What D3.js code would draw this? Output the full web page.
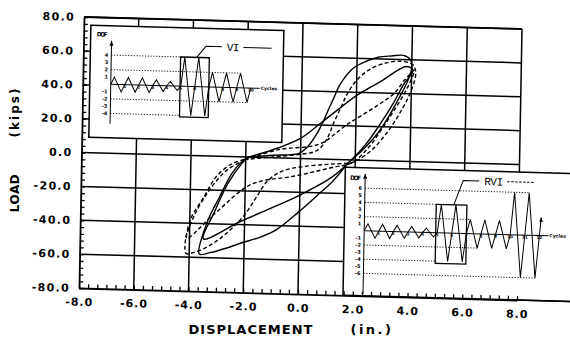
<!DOCTYPE html>
<html><head><meta charset="utf-8">
<script src="https://cdn.jsdelivr.net/npm/d3@7/dist/d3.min.js"></script>
<style>body{margin:0;background:#fff}svg{display:block}</style>
</head><body>
<svg id="c" width="570" height="341"></svg>
<script>
// ---------- data ----------
const xTicks = [-8,-6,-4,-2,0,2,4,6,8];
const yTicks = [-80,-60,-40,-20,0,20,40,60,80];

// VI test (solid) – displacement (in.), load (kips)
const viCycle1 = [[-1.9,0],[-1.0,1.5],[-0.06,3],[0.25,7],[0.55,14],[0.8,22],[0.98,29],[1.17,36],[1.35,43],[1.54,48],[1.85,54],[2.28,58],[2.77,61],[3.26,62],[3.7,62.5],[3.95,60],[4.0,55],[3.85,47],[3.55,37],[3.15,25],[2.7,14],[2.2,5],[1.8,-1],[1.16,-13.5],[0.67,-21],[-0.06,-32],[-0.8,-42],[-1.41,-47],[-2.14,-51],[-2.63,-54],[-3.24,-57],[-3.63,-58],[-3.36,-39],[-2.93,-24],[-2.5,-10],[-2.15,-3],[-1.9,0]];
const viCycle2 = [[-1.9,0],[-0.8,6],[0,12],[0.7,21],[1.3,29],[2.0,38],[2.9,47],[3.8,56],[4.05,54],[3.7,45],[3.35,34],[2.9,22],[2.4,10],[1.8,-1],[1.16,-10.5],[0,-21.6],[-1.04,-29.8],[-2.14,-38],[-3.49,-49],[-3.12,-33.5],[-2.63,-15.9],[-2.14,-4],[-1.9,0]];
// RVI test (dashed)
const rviCycle1 = [[-2.05,-1.5],[-1.0,0.5],[0,2.5],[0.6,5],[0.95,12],[1.2,22],[1.45,31],[1.7,40],[2.05,48],[2.5,54],[3.0,57.5],[3.6,59],[4.05,57],[4.15,52],[4.0,42],[3.65,30],[3.2,18],[2.65,7],[2.1,0],[1.9,-1.5],[1.0,-3],[0,-5],[-0.7,-8],[-1.2,-14],[-1.6,-24],[-2.0,-34],[-2.5,-43],[-3.0,-50],[-3.5,-55],[-3.9,-57.5],[-4.1,-58],[-4.16,-55],[-3.98,-38],[-3.49,-24],[-3.06,-12],[-2.5,-4.2],[-2.05,-1.5]];
const rviCycle2 = [[-2.02,-1.7],[-0.8,4.9],[0.68,8.8],[1.66,20.6],[2.77,32.5],[3.38,40],[3.75,48],[4.1,54],[3.9,45],[3.5,33],[3.0,20],[2.5,8],[1.9,-1.5],[1.16,-4.8],[-0.18,-10.4],[-1.77,-16],[-3.1,-34],[-4.1,-49],[-3.85,-35.8],[-3.3,-20],[-2.69,-8.2],[-2.02,-1.7]];

// inset loading histories: DOF amplitude per cycle
const viAmps  = [1,1,1,0.8,0.6,4,4,2,2,2];
const rviAmps = [1,1,0.9,0.8,0.6,4,4,2,2,2,6,6];
const viLevels  = [4,3,2,1,-1,-2,-3,-4];
const rviLevels = [6,5,4,3,2,1,-1,-2,-3,-4,-5,-6];
const viCycleLabels  = [1,2,3,4,5,6,7,8,9,10];
const rviCycleLabels = [1,2,3,4,5,6,7,8,9,10,11,12];
const viDotted  = [[4,6.25],[2,9.25],[-2,9.75],[-4,5]];
const rviDotted = [[6,11.25],[4,5],[2,7.25],[-2,7.75],[-4,5],[-6,11.75]];

// ---------- drawing ----------
const svg = d3.select('#c');
const W = 438, H = 271;
const x = d3.scaleLinear().domain([-8,8]).range([0,W]);
const y = d3.scaleLinear().domain([-80,80]).range([H,0]);
const g = svg.append('g').attr('transform','matrix(1,0.0274,-0.0185,1,84,17)');
const FONT = "'DejaVu Sans', Verdana, sans-serif";

// grid
g.append('g').selectAll('line').data(xTicks.filter(d=>d>-8)).join('line')
  .attr('x1',d=>x(d)).attr('x2',d=>x(d)).attr('y1',0).attr('y2',H)
  .attr('stroke','#000').attr('stroke-width',1.5);
g.append('g').selectAll('line').data(yTicks.filter(d=>d>-80)).join('line')
  .attr('x1',0).attr('x2',W).attr('y1',d=>y(d)).attr('y2',d=>y(d))
  .attr('stroke','#000').attr('stroke-width',1.5);

// curves
const line = d3.line().x(d=>x(d[0])).y(d=>y(d[1])).curve(d3.curveCatmullRom.alpha(0.5));
[viCycle1, viCycle2].forEach(c=>g.append('path').attr('d',line(c)).attr('fill','none')
  .attr('stroke','#000').attr('stroke-width',1.4));
[rviCycle1, rviCycle2].forEach(c=>g.append('path').attr('d',line(c)).attr('fill','none')
  .attr('stroke','#000').attr('stroke-width',1.4).attr('stroke-dasharray','4,2.5'));

// insets
function inset(opt){
  const ig = g.append('g').attr('transform',`translate(${opt.x},${opt.y})`);
  ig.append('rect').attr('width',opt.w).attr('height',opt.h).attr('fill','#fff')
    .attr('stroke','#000').attr('stroke-width',1.5);
  const cx = d3.scaleLinear().domain([0,opt.n]).range([opt.ax, opt.ax + opt.n*opt.cw]);
  const dy = d3.scaleLinear().domain([-1,1]).range([opt.zero+opt.u, opt.zero-opt.u]);
  ig.selectAll('.dot').data(opt.dotted).join('line')
    .attr('x1',cx(0)).attr('x2',d=>cx(d[1])).attr('y1',d=>dy(d[0])).attr('y2',d=>dy(d[0]))
    .attr('stroke','#000').attr('stroke-width',0.9).attr('stroke-dasharray','1.2,1.6');
  ig.append('line').attr('x1',cx(0)).attr('x2',cx(0)).attr('y1',opt.top).attr('y2',opt.bot)
    .attr('stroke','#000').attr('stroke-width',1);
  ig.append('path').attr('d',`M${cx(0)-2},${opt.top+5}L${cx(0)},${opt.top}L${cx(0)+2},${opt.top+5}Z`).attr('fill','#000');
  ig.append('line').attr('x1',cx(0)).attr('x2',cx(opt.n)+9).attr('y1',dy(0)).attr('y2',dy(0))
    .attr('stroke','#000').attr('stroke-width',1);
  ig.append('text').attr('x',cx(opt.n)+10).attr('y',dy(0)+1.5).text('Cycles')
    .attr('font-family',FONT).attr('font-size',4.6).attr('font-weight','bold');
  ig.append('text').attr('x',opt.ax-15).attr('y',opt.dofY).text('DOF')
    .attr('font-family',FONT).attr('font-size',6).attr('font-weight','bold').attr('textLength',11);
  ig.selectAll('.lv').data(opt.levels).join('text')
    .attr('x',cx(0)-3).attr('y',d=>dy(d)+1.8).attr('text-anchor','end').text(d=>d)
    .attr('font-family',FONT).attr('font-size',5).attr('font-weight','bold');
  ig.selectAll('.cl').data(opt.cycleLabels).join('text')
    .attr('x',d=>cx(d)).attr('y',dy(0)+3.5).attr('text-anchor','middle').text(d=>d)
    .attr('font-family',FONT).attr('font-size',4.2).attr('font-weight','bold');
  const pts = [];
  opt.amps.forEach((a,k)=>{ pts.push([k,0],[k+0.25,a],[k+0.75,-a]); });
  pts.push([opt.amps.length,0]);
  if (opt.tail) opt.tail.forEach(p=>pts.push(p));
  ig.append('path').attr('d',d3.line().x(d=>cx(d[0])).y(d=>dy(d[1]))(pts))
    .attr('fill','none').attr('stroke','#000').attr('stroke-width',1);
  if (opt.tail){
    const p = opt.tail[opt.tail.length-1];
    ig.append('path').attr('d',`M${cx(p[0])-1.8},${dy(p[1])+4}L${cx(p[0])},${dy(p[1])-1}L${cx(p[0])+1.8},${dy(p[1])+4}Z`).attr('fill','#000');
  }
  ig.append('rect').attr('x',cx(opt.box[0])).attr('y',dy(4)).attr('width',cx(opt.box[1])-cx(opt.box[0]))
    .attr('height',dy(opt.box[2])-dy(4)).attr('fill','none').attr('stroke','#000').attr('stroke-width',1.3);
  const lx = cx(opt.lead), ly = dy(4);
  ig.append('path').attr('d',`M${lx},${ly}L${lx+9},${opt.labY}L${lx+25},${opt.labY}`)
    .attr('fill','none').attr('stroke','#000').attr('stroke-width',1);
  ig.append('text').attr('x',lx+30).attr('y',opt.labY+4).text(opt.label)
    .attr('font-family',"'Liberation Mono', monospace").attr('font-size',11).attr('textLength',opt.label.length*6.3);
  const kx = lx+30+opt.label.length*6.3+4;
  ig.append('line').attr('x1',kx).attr('x2',kx+28).attr('y1',opt.labY).attr('y2',opt.labY)
    .attr('stroke','#000').attr('stroke-width',1).attr('stroke-dasharray',opt.keyDash);
}
inset({x:7,y:8,w:193,h:112,n:10,ax:21,cw:14,zero:58.5,u:7.3,top:15,bot:98,dofY:11,
  amps:viAmps,levels:viLevels,cycleLabels:viCycleLabels,dotted:viDotted,
  box:[4.95,7.0,-4.2],lead:6.1,labY:18,label:'VI',keyDash:null});
inset({x:264,y:143,w:320,h:128,n:12,ax:20,cw:14.6,zero:63,u:7.1,top:6,bot:126,dofY:12.5,
  amps:rviAmps,levels:rviLevels,cycleLabels:rviCycleLabels,dotted:rviDotted,tail:[[12.1,2.5]],
  box:[4.9,7.0,-4.3],lead:6.1,labY:10,label:'RVI',keyDash:'2.5,1.5'});

// axes
const tickFont = s=>s.attr('font-family',FONT).attr('font-size',11).attr('font-weight','bold').attr('fill','#000');
const yAx = g.append('g').call(d3.axisLeft(y).tickValues(yTicks).tickSize(0).tickPadding(9).tickFormat(d=>d.toFixed(1)));
yAx.selectAll('text').call(tickFont).attr('letter-spacing',1.3);
yAx.select('.domain').attr('stroke-width',1.8);
g.append('g').call(d3.axisRight(y).tickValues(d3.range(-80,81,4)).tickSize(4).tickFormat(''))
  .call(s=>s.select('.domain').remove()).selectAll('line').attr('stroke-width',1.3);
const xAx = g.append('g').attr('transform',`translate(0,${H})`)
  .call(d3.axisBottom(x).tickValues(xTicks).tickSize(0).tickPadding(10).tickFormat(d=>d.toFixed(1)));
xAx.selectAll('text').call(tickFont).attr('letter-spacing',1);
xAx.select('.domain').attr('stroke-width',1.8);
g.append('line').attr('x1',W).attr('x2',W+80).attr('y1',H).attr('y2',H).attr('stroke','#000').attr('stroke-width',1.5);
g.append('g').attr('transform',`translate(0,${H})`)
  .call(d3.axisTop(x).tickValues(d3.range(0,49).map(i=>-8+i/3)).tickSize(4).tickFormat(''))
  .call(s=>s.select('.domain').remove()).selectAll('line').attr('stroke-width',1.3);
g.append('line').attr('x1',0).attr('x2',W).attr('y1',0).attr('y2',0).attr('stroke','#000').attr('stroke-width',1.8);

// axis titles
svg.append('text').attr('x',251).attr('y',334).attr('text-anchor','middle').text('DISPLACEMENT')
  .attr('font-family',FONT).attr('font-size',13).attr('font-weight','bold').attr('letter-spacing',1);
svg.append('text').attr('x',372).attr('y',334).attr('text-anchor','middle').text('(in.)')
  .attr('font-family',FONT).attr('font-size',13).attr('font-weight','bold').attr('letter-spacing',2.5);
svg.append('text').attr('transform','translate(19,193) rotate(-90)').attr('text-anchor','middle').text('LOAD')
  .attr('font-family',FONT).attr('font-size',12).attr('font-weight','bold').attr('letter-spacing',0.5);
svg.append('text').attr('transform','translate(19,112) rotate(-90)').attr('text-anchor','middle').text('(kips)')
  .attr('font-family',FONT).attr('font-size',12).attr('font-weight','bold').attr('letter-spacing',2);
</script>
</body></html>
